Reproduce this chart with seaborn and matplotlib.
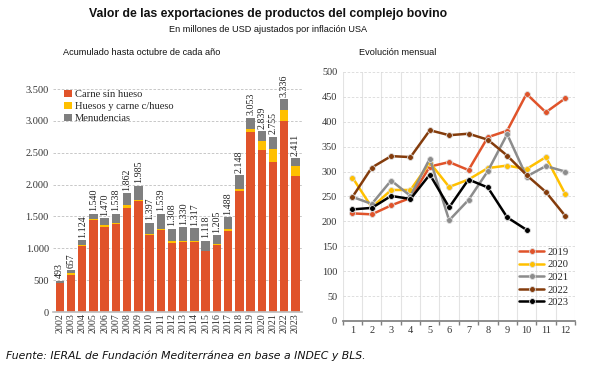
import matplotlib
matplotlib.use("Agg")
import matplotlib.pyplot as plt
import seaborn as sns
import pandas as pd
import numpy as np
from matplotlib.ticker import FuncFormatter

sns.set_theme(style="white")

years = [str(y) for y in range(2002, 2024)]
carne = [450, 585, 1030, 1445, 1335, 1385, 1640, 1735, 1205, 1280, 1090, 1105, 1105, 955, 1045, 1275, 1905, 2820, 2550, 2355, 3000, 2130]
huesos = [5, 20, 15, 10, 30, 5, 35, 30, 20, 30, 20, 15, 10, 10, 25, 35, 20, 45, 130, 205, 170, 165]
totals = [493, 657, 1124, 1540, 1470, 1538, 1862, 1985, 1397, 1539, 1308, 1330, 1317, 1118, 1205, 1488, 2148, 3053, 2839, 2755, 3336, 2411]
menud = [t - c - h for t, c, h in zip(totals, carne, huesos)]

months = list(range(1, 13))
m2019 = [216, 214, 232, 247, 310, 319, 303, 369, 382, 456, 419, 447]
m2020 = [288, 228, 263, 263, 318, 269, 284, 307, 312, 305, 329, 255]
m2021 = [249, 235, 282, 251, 326, 202, 243, 301, 375, 290, 311, 300]
m2022 = [249, 308, 331, 329, 383, 373, 376, 364, 332, 293, 259, 211]
m2023 = [224, 227, 251, 245, 294, 228, 284, 268, 208, 183]

C_ORANGE = "#E0532A"
C_YELLOW = "#FFC000"
C_GREY = "#7F7F7F"
serif = "Liberation Serif"
sans = "Liberation Sans"

fig = plt.figure(figsize=(5.89, 3.71), dpi=100)
fig.patch.set_facecolor("white")

def thou(v, pos=None):
    return f"{int(v):,}".replace(",", ".")

# ---------- left: stacked bars ----------
axL = fig.add_axes([0.090, 0.159, 0.423, 0.601])
df = pd.DataFrame({"year": years, "carne": carne, "huesos": huesos, "menud": menud})
b1 = np.array(carne)
b2 = b1 + np.array(huesos)
kw = dict(width=0.75, saturation=1, linewidth=0, edgecolor="none")
sns.barplot(data=df, x="year", y="carne", color=C_ORANGE, ax=axL, label="Carne sin hueso", **kw)
sns.barplot(data=df, x="year", y="huesos", color=C_YELLOW, ax=axL, bottom=b1,
            label="Huesos y carne c/hueso", **kw)
sns.barplot(data=df, x="year", y="menud", color=C_GREY, ax=axL, bottom=b2,
            label="Menudencias", **kw)
axL.set_ylim(0, 3500)
axL.set_xlim(-0.6, len(years) - 0.4)
axL.set_yticks(range(0, 3501, 500))
axL.yaxis.set_major_formatter(FuncFormatter(thou))
axL.grid(axis="y", color="#BFBFBF", linestyle=(0, (3, 2)), linewidth=0.6)
axL.set_axisbelow(True)
for s in ["top", "right", "left"]:
    axL.spines[s].set_visible(False)
axL.spines["bottom"].set_color("#BFBFBF")
axL.set_xlabel("")
axL.set_ylabel("")
axL.tick_params(axis="x", labelrotation=90, labelsize=7.2, pad=1, length=0)
axL.tick_params(axis="y", labelsize=7.5, pad=3, length=0)
for lab in axL.get_xticklabels() + axL.get_yticklabels():
    lab.set_fontfamily(serif)
    lab.set_color("#333333")
for i, t in enumerate(totals):
    axL.text(i, t + 40, thou(t), rotation=90, ha="center", va="bottom",
             fontsize=7.2, fontfamily=serif, color="#222222", clip_on=False)
leg = axL.legend(loc="upper left", bbox_to_anchor=(0.02, 1.025), frameon=False,
                 prop={"family": serif, "size": 7.6}, handlelength=0.7, handleheight=0.7,
                 handletextpad=0.3, labelspacing=0.25, borderaxespad=0.2)

# ---------- right: monthly lines ----------
axR = fig.add_axes([0.582, 0.135, 0.394, 0.671])
rows = []
for yr, vals in [("2019", m2019), ("2020", m2020), ("2021", m2021), ("2022", m2022), ("2023", m2023)]:
    for m, v in zip(months, vals):
        rows.append({"mes": m, "valor": v, "anio": yr})
ldf = pd.DataFrame(rows)
pal = {"2019": C_ORANGE, "2020": C_YELLOW, "2021": "#8C8C8C", "2022": "#843C0C", "2023": "#000000"}
sns.lineplot(data=ldf, x="mes", y="valor", hue="anio", palette=pal, ax=axR,
             marker="o", markersize=4.2, markeredgecolor="#DDDDDD", markeredgewidth=0.6,
             linewidth=1.8, legend=True)
axR.set_xlim(0.5, 12.5)
axR.set_ylim(0, 500)
axR.set_xticks(months)
axR.set_yticks(range(0, 501, 50))
axR.set_xticks(np.arange(0.5, 13, 1), minor=True)
axR.grid(axis="y", which="major", color="#D9D9D9", linestyle=(0, (3, 2)), linewidth=0.6)
axR.grid(axis="x", which="minor", color="#E3E3E3", linestyle="-", linewidth=0.8)
axR.grid(axis="x", which="major", visible=False)
axR.set_axisbelow(True)
for s in ["top", "right", "left"]:
    axR.spines[s].set_visible(False)
axR.spines["bottom"].set_color("#808080")
axR.tick_params(axis="x", which="major", length=0, labelsize=7.4, pad=4)
axR.tick_params(axis="x", which="minor", length=3, color="#808080", bottom=True)
axR.tick_params(axis="y", length=0, labelsize=7.4, pad=4)
for lab in axR.get_xticklabels() + axR.get_yticklabels():
    lab.set_fontfamily(serif)
    lab.set_color("#333333")
axR.set_xlabel("")
axR.set_ylabel("")
lg = axR.legend(loc="lower right", bbox_to_anchor=(1.0, 0.03), frameon=False,
                prop={"family": serif, "size": 7.6}, handlelength=2.4, handletextpad=0.3,
                labelspacing=0.3, borderaxespad=0.2)
lg.set_title(None)

# ---------- texts ----------
fig.text(0.455, 0.962, "Valor de las exportaciones de productos del complejo bovino",
         ha="center", va="center", fontsize=8.8, fontweight="bold", color="#111111",
         fontfamily=sans)
fig.text(0.455, 0.920, "En millones de USD ajustados por inflación USA",
         ha="center", va="center", fontsize=6.6, color="#111111", fontfamily=sans)
fig.text(0.241, 0.858, "Acumulado hasta octubre de cada año",
         ha="center", va="center", fontsize=6.6, color="#111111", fontfamily=sans)
fig.text(0.676, 0.858, "Evolución mensual",
         ha="center", va="center", fontsize=6.6, color="#111111", fontfamily=sans)
fig.text(0.010, 0.040, "Fuente: IERAL de Fundación Mediterránea en base a INDEC y BLS.",
         ha="left", va="center", fontsize=7.8, fontstyle="italic", color="#111111",
         fontfamily="DejaVu Sans")

fig.savefig("out.png", dpi=100, facecolor="white")
